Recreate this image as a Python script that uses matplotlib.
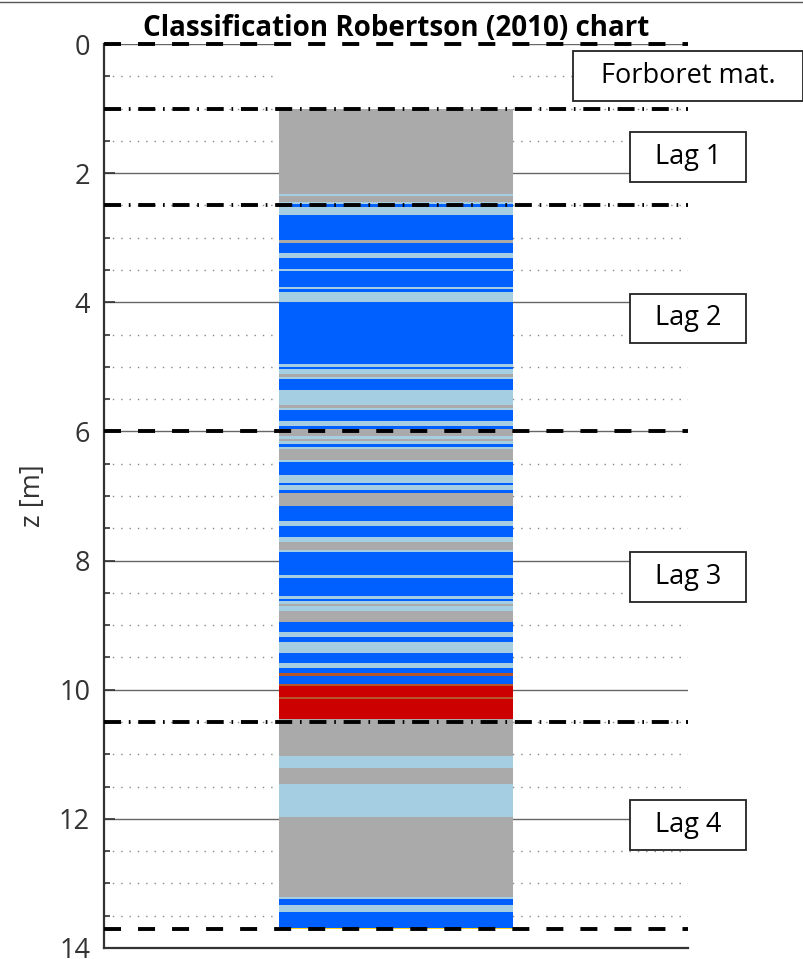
import matplotlib
matplotlib.use("Agg")
import matplotlib.pyplot as plt
from matplotlib.lines import Line2D
from matplotlib.patches import Rectangle
from matplotlib.ticker import MultipleLocator
import matplotlib.transforms as mtransforms

plt.rcParams["lines.scale_dashes"] = False

# Interfaces between classified intervals (depth in m) and the SBT zone of each interval
interfaces = [
    1.000, 2.323, 2.354, 2.447, 2.478, 2.519, 2.648, 3.035, 3.081, 3.236,
    3.314, 3.489, 3.510, 3.767, 3.794, 3.840, 3.995, 4.955, 4.997, 5.033,
    5.110, 5.156, 5.187, 5.358, 5.590, 5.636, 5.667, 5.838, 5.915, 5.962,
    6.070, 6.112, 6.147, 6.194, 6.240, 6.271, 6.442, 6.473, 6.674, 6.798,
    6.829, 6.906, 6.953, 7.154, 7.386, 7.464, 7.634, 7.711, 7.835, 7.866,
    8.222, 8.269, 8.548, 8.594, 8.625, 8.671, 8.702, 8.780, 8.950, 9.105,
    9.182, 9.260, 9.430, 9.585, 9.662, 9.740, 9.786, 9.910, 9.941, 10.112,
    10.143, 10.452, 11.025, 11.211, 11.458, 11.969, 13.208, 13.239, 13.332, 13.440,
    13.688, 13.712,
]
zones = [
    5, 4, 5, 4, 3, 4, 3, 5, 3, 4,
    3, 4, 3, 4, 3, 4, 3, 4, 3, 4,
    5, 4, 3, 4, 5, 4, 3, 4, 3, 5,
    4, 5, 4, 3, 4, 5, 4, 3, 4, 3,
    4, 3, 5, 3, 4, 3, 4, 5, 4, 3,
    4, 3, 4, 3, 4, 5, 4, 5, 3, 4,
    3, 4, 3, 4, 3, 2, 3, 2, 1, 2,
    1, 5, 4, 5, 4, 5, 4, 3, 4, 3,
    6,
]
zone_colors = {1: "#CC0000", 2: "#B5562B", 3: "#005FFF", 4: "#A6CEE3",
               5: "#AAAAAA", 6: "#FFD21F"}

# Interpreted layers
layer_names = ["Forboret mat.", "Lag 1", "Lag 2", "Lag 3", "Lag 4"]
layer_bounds = [0.0, 1.0, 2.5, 6.0, 10.5, 13.7]
bound_styles = ["--", "-.", "-.", "--", "-.", "--"]

fig = plt.figure(figsize=(8.04, 9.59), dpi=100)
ax = fig.add_axes([0.1294, 0.0115, 0.7264, 0.9426])

ax.set_xlim(0, 1)
ax.set_ylim(14, 0)

# Pre-drilled interval (blank) and classified column
ax.bar(0.5, layer_bounds[1] - layer_bounds[0], bottom=layer_bounds[0], width=0.4,
       color="white", edgecolor="none", zorder=2)
tops = interfaces[:-1]
bases = interfaces[1:]
for top, base, z in zip(tops, bases, zones):
    ax.bar(0.5, base - top, bottom=top, width=0.4, color=zone_colors[z],
           edgecolor="none", linewidth=0, zorder=2)

# Layer boundaries
dash_pat = {"--": (0, (12.25, 12.25)), "-.": (0, (12.25, 5.6, 1.2, 5.6))}
for d, ls in zip(layer_bounds, bound_styles):
    ax.axhline(d, color="black", lw=2.8, linestyle=dash_pat[ls], zorder=4,
               clip_on=False)

# Layer labels in boxes centred on the right edge of the axes
box_w = {"Forboret mat.": 0.394}
trans = mtransforms.blended_transform_factory(ax.transAxes, ax.transData)
for name, top, base in zip(layer_names, layer_bounds[:-1], layer_bounds[1:]):
    mid = 0.5 * (top + base)
    w = box_w.get(name, 0.2)
    h = 0.77
    ax.add_patch(Rectangle((1.0 - w / 2, mid - h / 2), w, h, transform=trans,
                           facecolor="white", edgecolor="#222222", lw=1.3,
                           clip_on=False, zorder=6))
    ax.text(1.0, mid, name, transform=trans, ha="center", va="center",
            fontsize=19.5, family="Open Sans", color="black", clip_on=False,
            zorder=7)

# Axes styling
ax.yaxis.set_major_locator(MultipleLocator(2))
ax.yaxis.set_minor_locator(MultipleLocator(0.5))
ax.set_xticks([])
ax.set_axisbelow(True)
ax.grid(which="major", axis="y", color="#666666", lw=1.0, linestyle="-")
ax.grid(which="minor", axis="y", color="#888888", lw=1.0, linestyle=(0, (1, 5)))
ax.tick_params(axis="y", which="major", direction="in", length=8, width=1.2,
               color="#333333", labelsize=19.5, labelcolor="#333333", pad=10)
ax.tick_params(axis="y", which="minor", direction="in", length=4.5, width=1.2,
               color="#333333")
for lab in ax.get_yticklabels():
    lab.set_family("Open Sans")
for side in ("top", "right"):
    ax.spines[side].set_visible(False)
for side in ("left", "bottom"):
    ax.spines[side].set_color("#333333")
    ax.spines[side].set_linewidth(1.6)

ax.set_ylabel("z [m]", fontsize=19.5, family="Open Sans", color="#333333")
ax.yaxis.set_label_coords(-0.098, 0.5)

ax.set_title("Classification Robertson (2010) chart", fontsize=20,
             family="Open Sans", fontweight="bold", pad=6)

fig.add_artist(Line2D([0, 1], [0.9975, 0.9975], transform=fig.transFigure,
                      color="#555555", lw=1.0))

fig.savefig("out.png", dpi=100)
